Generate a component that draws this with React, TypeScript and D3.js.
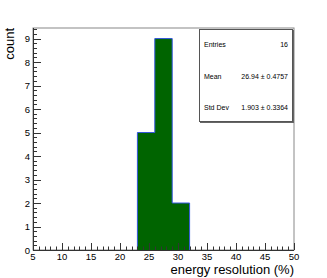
import React, { useEffect, useRef } from 'react';
import * as d3 from 'd3';

// histogram bins (lower edge, upper edge, count)
const binEdges = [23, 26, 29, 32];
const binCounts = [5, 9, 2];
const xTicks = [5, 10, 15, 20, 25, 30, 35, 40, 45, 50];
const yTicks = [0, 1, 2, 3, 4, 5, 6, 7, 8, 9];
const statLabels = ['Entries', 'Mean', 'Std Dev'];
const statValues = ['16', '26.94 \u00b1 0.4757', '1.903 \u00b1 0.3364'];

const App = () => {
  const svgRef = useRef<SVGSVGElement>(null);

  useEffect(() => {
    const svg = d3.select(svgRef.current);
    svg.selectAll('*').remove();

    const left = 33, right = 294, top = 28, bottom = 250;
    const font = 'Liberation Sans, Arial, sans-serif';

    const x = d3.scaleLinear().domain([5, 50]).range([left, right]);
    const y = d3.scaleLinear().domain([0, 9.45]).range([bottom, top]);

    // frame
    svg.append('rect')
      .attr('x', left).attr('y', top)
      .attr('width', right - left).attr('height', bottom - top)
      .attr('fill', 'white').attr('stroke', '#888').attr('stroke-width', 1);

    // histogram
    const pts: [number, number][] = [[x(binEdges[0]), y(0)]];
    binCounts.forEach((c, i) => {
      pts.push([x(binEdges[i]), y(c)]);
      pts.push([x(binEdges[i + 1]), y(c)]);
    });
    pts.push([x(binEdges[binEdges.length - 1]), y(0)]);
    svg.append('path')
      .attr('d', d3.line()(pts))
      .attr('fill', '#006400')
      .attr('stroke', '#3355dd')
      .attr('stroke-width', 1);

    // axes lines
    const ax = svg.append('g').attr('stroke', '#333').attr('stroke-width', 1);
    ax.append('line').attr('x1', left).attr('x2', right).attr('y1', bottom + 0.5).attr('y2', bottom + 0.5);
    ax.append('line').attr('x1', left + 0.5).attr('x2', left + 0.5).attr('y1', top).attr('y2', bottom);

    // x ticks
    d3.range(5, 50.01, 1).forEach(v => {
      const major = v % 5 === 0;
      ax.append('line')
        .attr('x1', Math.round(x(v)) + 0.5).attr('x2', Math.round(x(v)) + 0.5)
        .attr('y1', bottom).attr('y2', bottom - (major ? 7 : 3.5));
    });
    // y ticks
    d3.range(0, 9.41, 0.2).forEach(v => {
      const major = Math.abs(v - Math.round(v)) < 1e-6;
      ax.append('line')
        .attr('y1', Math.round(y(v)) + 0.5).attr('y2', Math.round(y(v)) + 0.5)
        .attr('x1', left).attr('x2', left + (major ? 8 : 4));
    });

    svg.append('g').selectAll('text').data(xTicks).join('text')
      .attr('x', d => x(d)).attr('y', 260)
      .attr('text-anchor', 'middle')
      .attr('font-family', font).attr('font-size', 9.5)
      .text(d => d);

    svg.append('g').selectAll('text').data(yTicks).join('text')
      .attr('x', 30).attr('y', d => y(d) + 3.5)
      .attr('text-anchor', 'end')
      .attr('font-family', font).attr('font-size', 9.5)
      .text(d => d);

    // axis titles
    svg.append('text')
      .attr('x', right).attr('y', 274)
      .attr('text-anchor', 'end')
      .attr('font-family', font).attr('font-size', 13)
      .text('energy resolution (%)');
    svg.append('text')
      .attr('transform', `translate(14,${top}) rotate(-90)`)
      .attr('text-anchor', 'end')
      .attr('font-family', font).attr('font-size', 13)
      .text('count');

    // stats box
    svg.append('rect')
      .attr('x', 200).attr('y', 30).attr('width', 94).attr('height', 93)
      .attr('fill', '#666');
    svg.append('rect')
      .attr('x', 199.5).attr('y', 29.5).attr('width', 93).attr('height', 92)
      .attr('fill', 'white').attr('stroke', '#555').attr('stroke-width', 1);
    statLabels.forEach((s, i) => {
      svg.append('text')
        .attr('x', 204).attr('y', 47 + i * 31.5)
        .attr('font-family', font).attr('font-size', 7)
        .text(s);
      svg.append('text')
        .attr('x', 288).attr('y', 47 + i * 31.5)
        .attr('text-anchor', 'end')
        .attr('font-family', font).attr('font-size', 7)
        .text(statValues[i]);
    });
  }, []);

  return <svg ref={svgRef} width={327} height={278} style={{ position: 'absolute', left: 0, top: 0 }} />;
};

export default App;
